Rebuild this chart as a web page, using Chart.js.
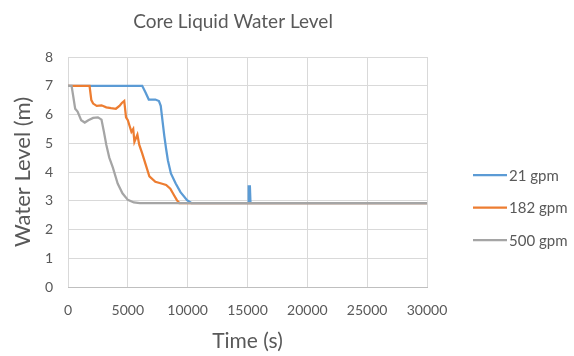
<!DOCTYPE html>
<html lang="en">
<head>
<meta charset="UTF-8">
<title>Core Liquid Water Level</title>
<script src="https://cdn.jsdelivr.net/npm/chart.js"></script>
<style>
* { margin: 0; padding: 0; box-sizing: border-box; }
body { background: #fff; }
#wrap { width: 574px; height: 356px; }
</style>
</head>
<body>
<div id="wrap"><canvas id="levelChart" width="574" height="356"></canvas></div>
<script>
// values
const chartTitle = 'Core Liquid Water Level';
const seriesNames = ['21 gpm', '182 gpm', '500 gpm'];
const seriesColors = ['#5B9BD5', '#ED7D31', '#A5A5A5'];

const time21 = [0, 6200, 6500, 6750, 7300, 7600, 7750, 7900, 8050, 8200, 8350, 8600, 9000, 9400, 9950, 10300, 15050, 15100, 15200, 15250, 30000];
const level21 = [7, 7, 6.75, 6.52, 6.52, 6.47, 6.3, 5.77, 5.25, 4.8, 4.4, 3.95, 3.6, 3.3, 3.02, 2.92, 2.92, 3.5, 3.5, 2.92, 2.92];

const time182 = [0, 1800, 1950, 2100, 2400, 2800, 3200, 3600, 4000, 4300, 4500, 4700, 4850, 5000, 5150, 5300, 5450, 5550, 5700, 5800, 5950, 6200, 6500, 6800, 7300, 7800, 8200, 8550, 8850, 9100, 9300, 30000];
const level182 = [7, 7, 6.5, 6.38, 6.3, 6.32, 6.25, 6.22, 6.2, 6.3, 6.4, 6.47, 5.9, 5.8, 5.6, 5.4, 5.5, 5.05, 5.2, 5.3, 4.95, 4.65, 4.25, 3.85, 3.66, 3.6, 3.55, 3.42, 3.2, 3.02, 2.92, 2.92];

const time500 = [0, 300, 450, 600, 800, 1100, 1400, 1700, 2100, 2500, 2800, 3000, 3200, 3450, 3750, 4150, 4550, 5000, 5500, 6000, 30000];
const level500 = [7, 7, 6.6, 6.2, 6.1, 5.8, 5.72, 5.8, 5.88, 5.9, 5.82, 5.4, 4.95, 4.5, 4.15, 3.6, 3.26, 3.03, 2.94, 2.92, 2.92];

const xTickValues = [0, 5000, 10000, 15000, 20000, 25000, 30000];
const yTickValues = [0, 1, 2, 3, 4, 5, 6, 7, 8];

const textColor = '#595959';
const gridColor = '#D9D9D9';

Chart.defaults.font.family = 'Lato';
Chart.defaults.color = textColor;

function toPoints(xs, ys) {
    return xs.map((x, i) => ({ x: x, y: ys[i] }));
}

// title and legend drawn where the reference has them
const chartDecor = {
    id: 'chartDecor',
    afterDraw(chart) {
        const ctx = chart.ctx;
        ctx.save();
        ctx.fillStyle = textColor;
        ctx.font = '19px Lato';
        ctx.textAlign = 'center';
        ctx.textBaseline = 'middle';
        ctx.fillText(chartTitle, 233, 22);

        ctx.font = '15px Lato';
        ctx.textAlign = 'left';
        chart.data.datasets.forEach((ds, i) => {
            const y = 175 + i * 32.5;
            ctx.strokeStyle = ds.borderColor;
            ctx.lineWidth = 2.25;
            ctx.beginPath();
            ctx.moveTo(473, y);
            ctx.lineTo(507, y);
            ctx.stroke();
            ctx.fillText(ds.label, 509, y + 1);
        });
        ctx.restore();
    }
};

const ctx = document.getElementById('levelChart').getContext('2d');
const chart = new Chart(ctx, {
    type: 'scatter',
    data: {
        datasets: [
            { label: seriesNames[0], data: toPoints(time21, level21), borderColor: seriesColors[0], order: 1 },
            { label: seriesNames[1], data: toPoints(time182, level182), borderColor: seriesColors[1], order: 0 },
            { label: seriesNames[2], data: toPoints(time500, level500), borderColor: seriesColors[2], order: -1 }
        ]
    },
    options: {
        responsive: false,
        animation: false,
        devicePixelRatio: 1,
        showLine: true,
        layout: { padding: { top: 57, right: 147, bottom: 0, left: 0 } },
        elements: {
            point: { radius: 0, hoverRadius: 0 },
            line: { borderWidth: 2.25, tension: 0, fill: false }
        },
        plugins: {
            legend: { display: false },
            tooltip: { enabled: false }
        },
        scales: {
            x: {
                type: 'linear',
                min: 0,
                max: 30000,
                afterBuildTicks: axis => { axis.ticks = xTickValues.map(v => ({ value: v })); },
                afterFit: axis => { axis.height = 69; },
                grid: { color: gridColor, drawTicks: false },
                border: { color: '#BFBFBF' },
                ticks: { padding: 15, font: { size: 14 }, color: textColor, callback: v => String(v), maxRotation: 0 },
                title: { display: true, text: 'Time (s)', font: { size: 21 }, color: textColor, padding: { top: 0, bottom: 2 } }
            },
            y: {
                min: 0,
                max: 8,
                afterBuildTicks: axis => { axis.ticks = yTickValues.map(v => ({ value: v })); },
                afterFit: axis => { axis.width = 68; },
                grid: { color: gridColor, drawTicks: false },
                border: { display: false },
                ticks: { padding: 15, font: { size: 14 }, color: textColor },
                title: { display: true, text: 'Water Level (m)', font: { size: 22 }, color: textColor, padding: { top: 10, bottom: 0 } }
            }
        }
    },
    plugins: [chartDecor]
});
</script>
</body>
</html>
